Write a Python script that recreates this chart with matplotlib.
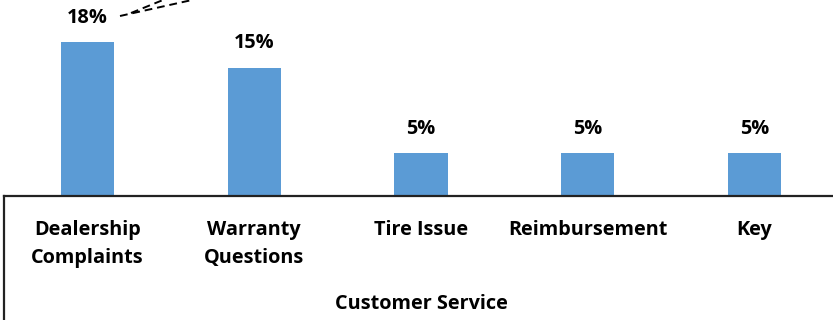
import matplotlib
matplotlib.use("Agg")
import matplotlib.pyplot as plt
from matplotlib.lines import Line2D
from matplotlib.transforms import blended_transform_factory

categories = ["Dealership\nComplaints", "Warranty\nQuestions", "Tire Issue", "Reimbursement", "Key"]
shares = [18, 15, 5, 5, 5]
group_label = "Customer Service"

W, H = 833, 320
plt.rcParams['font.family'] = ['Open Sans', 'DejaVu Sans']
plt.rcParams['font.weight'] = 'bold'
FS = 14.3

fig = plt.figure(figsize=(W / 100, H / 100), dpi=100)
# axis origin at (4, 196) px, each category 166.8 px wide
left, base, cat_w = 4, 196, 166.8
ax = fig.add_axes([left / W, (H - base) / H, cat_w * 5 / W, base / H])

ax.bar(range(len(shares)), shares, width=0.318, color='#5B9BD5')
ax.set_xlim(-0.5, 4.5)
ax.set_ylim(0, base / 8.56)

for i, v in enumerate(shares):
    ax.annotate(f"{v}%", (i, v), xytext=(0, 17.5), textcoords='offset points',
                ha='center', va='center', fontsize=FS, fontweight='bold')

for s in ['top', 'right', 'left']:
    ax.spines[s].set_visible(False)
ax.spines['bottom'].set_linewidth(1.6)
ax.spines['bottom'].set_color('#222222')
ax.set_yticks([])
ax.set_xticks(range(len(categories)))
ax.set_xticklabels(categories, fontsize=FS, fontweight='bold', linespacing=1.55)
ax.tick_params(axis='x', length=0, pad=17)

trans = blended_transform_factory(ax.transData, fig.transFigure)
ax.text(2, 1 - 304 / H, group_label, transform=trans, ha='center', va='center',
        fontsize=FS, fontweight='bold')

# left edge of the category axis
fig.add_artist(Line2D([left / W, left / W], [0, 1 - base / H], color='#222222', lw=1.6))

# leader lines running off the top edge
fig.add_artist(Line2D([120 / W, 192 / W], [1 - 16 / H, 1.0], color='black', lw=1.4,
                      ls=(0, (4, 2.5))))
fig.add_artist(Line2D([131 / W, 163 / W], [1 - 13 / H, 1.0], color='black', lw=1.4,
                      ls=(0, (4, 2.5))))

fig.savefig("out.png", dpi=100)
